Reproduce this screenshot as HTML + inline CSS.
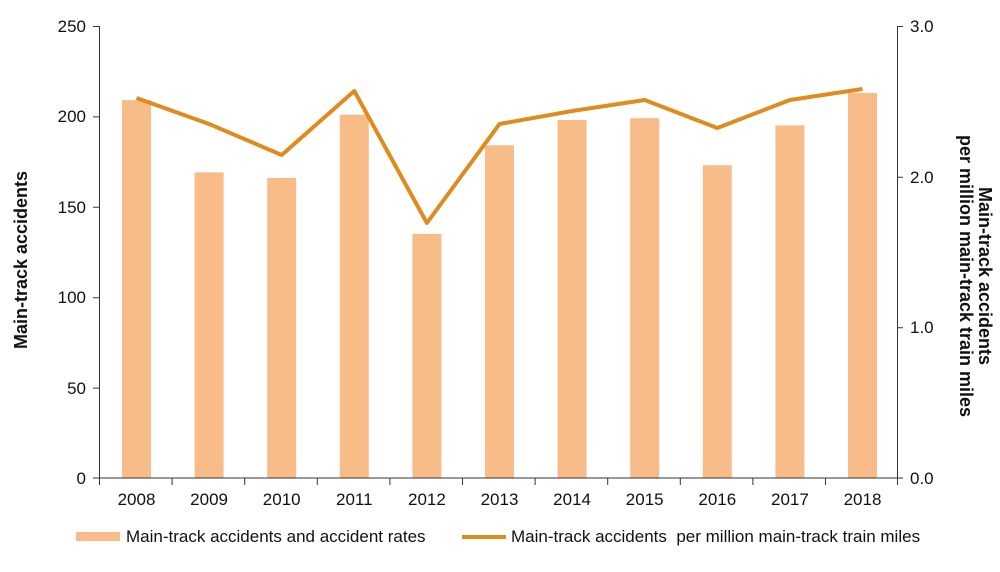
<!DOCTYPE html><html><head><style>body{margin:0;background:#fff}</style></head><body>
<svg width="1000" height="567" xmlns="http://www.w3.org/2000/svg" font-family="Liberation Sans, Arial, sans-serif">
<g fill="#F8BC88">
<rect x="122" y="100.1" width="29" height="377.9"/>
<rect x="194.6" y="172.4" width="29" height="305.6"/>
<rect x="267.2" y="177.9" width="29" height="300.1"/>
<rect x="339.8" y="114.6" width="29" height="363.4"/>
<rect x="412.4" y="233.9" width="29" height="244.1"/>
<rect x="485" y="145.3" width="29" height="332.7"/>
<rect x="557.6" y="120" width="29" height="358"/>
<rect x="630.2" y="118.2" width="29" height="359.8"/>
<rect x="702.8" y="165.2" width="29" height="312.8"/>
<rect x="775.4" y="125.4" width="29" height="352.6"/>
<rect x="848" y="92.9" width="29" height="385.1"/>
</g>
<g stroke="#333" stroke-width="1" fill="none">
<line x1="99.5" y1="26" x2="99.5" y2="478"/>
<line x1="897.5" y1="26" x2="897.5" y2="478"/>
<line x1="99.5" y1="478" x2="897.5" y2="478"/>
<path d="M93 26.5h6M93 116.9h6M93 207.3h6M93 297.7h6M93 388.1h6M93 478h6"/>
<path d="M897 26.5h6M897 177.2h6M897 327.8h6M897 478h6"/>
<path d="M99.5 478v7M172.1 478v7M244.7 478v7M317.3 478v7M389.9 478v7M462.5 478v7M535.1 478v7M607.7 478v7M680.3 478v7M752.9 478v7M825.5 478v7M897.5 478v7"/>
</g>
<polyline fill="none" stroke="#DE8C1E" stroke-width="4" stroke-linejoin="round" points="136.5,98 209.1,124 281.7,155 354.3,91 426.9,223 499.5,124 572.1,111 644.7,100 717.3,128 789.9,100 862.5,89"/>
<g font-size="17" fill="#111" text-anchor="end">
<text x="86" y="32">250</text><text x="86" y="122">200</text><text x="86" y="213">150</text><text x="86" y="303">100</text><text x="86" y="394">50</text><text x="86" y="484">0</text>
</g>
<g font-size="17" fill="#111">
<text x="910" y="32">3.0</text><text x="910" y="183">2.0</text><text x="910" y="333">1.0</text><text x="910" y="484">0.0</text>
</g>
<g font-size="17" fill="#111" text-anchor="middle">
<text x="136.5" y="505">2008</text><text x="209.1" y="505">2009</text><text x="281.7" y="505">2010</text><text x="354.3" y="505">2011</text><text x="426.9" y="505">2012</text><text x="499.5" y="505">2013</text><text x="572.1" y="505">2014</text><text x="644.7" y="505">2015</text><text x="717.3" y="505">2016</text><text x="789.9" y="505">2017</text><text x="862.5" y="505">2018</text>
</g>
<text transform="translate(27,260) rotate(-90)" text-anchor="middle" font-size="18" font-weight="bold" fill="#111">Main-track accidents</text>
<text transform="translate(979,276) rotate(90)" text-anchor="middle" font-size="18" font-weight="bold" fill="#111">Main-track accidents</text>
<text transform="translate(960,276) rotate(90)" text-anchor="middle" font-size="18" font-weight="bold" fill="#111">per million main-track train miles</text>
<rect x="76" y="532" width="44" height="9" fill="#F8BC88"/>
<text x="126" y="542" font-size="17" fill="#111">Main-track accidents and accident rates</text>
<line x1="462" y1="537" x2="506" y2="537" stroke="#DE8C1E" stroke-width="4"/>
<text x="511" y="542" font-size="17" fill="#111">Main-track accidents&#160; per million main-track train miles</text>
</svg>
</body></html>
